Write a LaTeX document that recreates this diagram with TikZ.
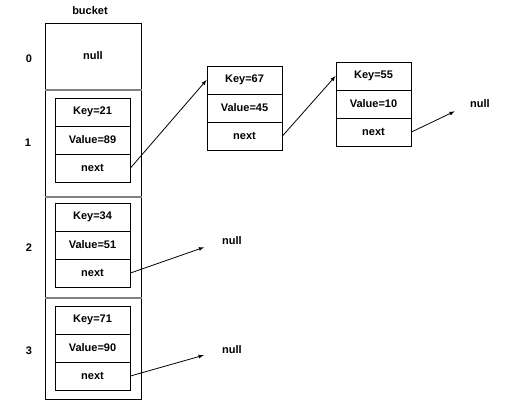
\documentclass[tikz,border=0pt]{standalone}
\usepackage{fontspec}
\setmainfont{Liberation Sans}
\usepackage{tikz}

\tikzset{
  cell/.style={shape=rectangle, draw=black, line width=1pt, minimum width=96pt, inner sep=0pt},
  entry/.style={shape=rectangle, draw=black, line width=0.9pt, minimum width=75pt, minimum height=28pt, inner sep=0pt},
  divider/.style={draw=gray, line width=2pt},
}

\begin{document}
\begin{tikzpicture}[x=1pt, y=-1pt, font=\bfseries\fontsize{11}{13}\selectfont]
\useasboundingbox (0,0) rectangle (505,408);

\node[inner sep=0pt](bucket) at (90,11) {bucket};

% bucket cells
\node[cell, minimum height=66pt](b0) at (93,56) {null};
\node[cell, minimum height=107pt](b1) at (93,142.5) {};
\node[cell, minimum height=101pt](b2) at (93,246.5) {};
\node[cell, minimum height=102pt](b3) at (93,348) {};

\path[divider] (b0.south west) -- (b0.south east);
\path[divider] (b1.south west) -- (b1.south east);
\path[divider] (b2.south west) -- (b2.south east);

\node(i0) at (29,59) {0};
\node(i1) at (28,143) {1};
\node(i2) at (29,248) {2};
\node(i3) at (29,351) {3};

% entries in the buckets
\node[entry](k21) at (92.5,112) {Key=21};
\node[entry](v89) at (92.5,140) {Value=89};
\node[entry](n21) at (92.5,168) {next};

\node[entry](k34) at (92.5,217) {Key=34};
\node[entry](v51) at (92.5,245) {Value=51};
\node[entry](n34) at (92.5,273) {next};

\node[entry](k71) at (92.5,320) {Key=71};
\node[entry](v90) at (92.5,348) {Value=90};
\node[entry](n71) at (92.5,376) {next};

% chained entries
\node[entry](k67) at (244.5,80) {Key=67};
\node[entry](v45) at (244.5,108) {Value=45};
\node[entry](n67) at (244.5,136) {next};

\node[entry](k55) at (373.5,76) {Key=55};
\node[entry](v10) at (373.5,104) {Value=10};
\node[entry](n55) at (373.5,132) {next};

\node[inner sep=0pt](nullA) at (480,104) {null};
\node[inner sep=0pt](nullB) at (232,241) {null};
\node[inner sep=0pt](nullC) at (232,350) {null};

\path[-latex, line width=0.8pt] (n21.east) edge (k67.west);
\path[-latex, line width=0.8pt] (n67.east) edge (k55.west);
\path[-latex, line width=0.8pt, shorten >=17pt] (n55.east) edge (nullA.west);
\path[-latex, line width=0.8pt, shorten >=19pt] (n34.east) edge (nullB.west);
\path[-latex, line width=0.8pt, shorten >=19pt] (n71.east) edge (nullC.west);
\end{tikzpicture}
\end{document}
